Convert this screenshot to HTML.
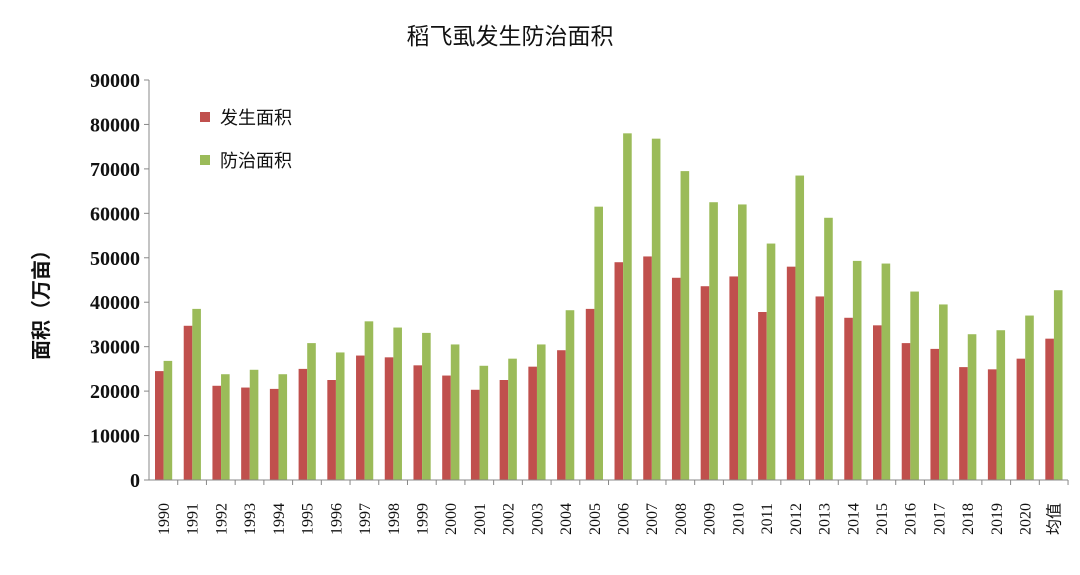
<!DOCTYPE html><html><head><meta charset="utf-8"><style>body{margin:0;background:#fff}</style></head><body>
<svg width="1080" height="570" xmlns="http://www.w3.org/2000/svg" id="s">
<text x="510" y="44" text-anchor="middle" font-family="Liberation Sans,'Noto Sans CJK SC',sans-serif" font-size="23" fill="#111">稻飞虱发生防治面积</text>
<text transform="translate(48,300) rotate(-90)" text-anchor="middle" font-family="Liberation Sans,'Noto Sans CJK SC',sans-serif" font-size="20" font-weight="bold" fill="#111">面积（万亩）</text>
<rect x="200" y="112" width="10" height="10" fill="#c0504d"/>
<text x="220" y="124" font-family="Liberation Sans,'Noto Sans CJK SC',sans-serif" font-size="18" fill="#111">发生面积</text>
<rect x="200" y="155" width="10" height="10" fill="#9bbb59"/>
<text x="220" y="167" font-family="Liberation Sans,'Noto Sans CJK SC',sans-serif" font-size="18" fill="#111">防治面积</text>
<g id="g"></g>
</svg>
<script>
var r=[24500,34700,21200,20800,20500,25000,22500,28000,27600,25800,23500,20300,22500,25500,29200,38500,49000,50300,45500,43600,45800,37800,48000,41300,36500,34800,30800,29500,25400,24900,27300,31800];
var g=[26800,38500,23800,24800,23800,30800,28700,35700,34300,33100,30500,25700,27300,30500,38200,61500,78000,76800,69500,62500,62000,53200,68500,59000,49300,48700,42400,39500,32800,33700,37000,42700];
var s='',X0=149,Y0=480,k=400/90000,w=28.72;
for(var i=0;i<=9;i++){var y=Y0-i*10000*k;s+='<line x1="144" x2="149" y1="'+y+'" y2="'+y+'" stroke="#888"/><text x="140" y="'+(y+7)+'" text-anchor="end" font-family="Liberation Serif,serif" font-weight="bold" font-size="20" fill="#111">'+(i*10000)+'</text>';}
for(var i=0;i<32;i++){var x=X0+i*w;
s+='<rect x="'+(x+6)+'" y="'+(Y0-r[i]*k)+'" width="8.6" height="'+r[i]*k+'" fill="#c0504d"/>';
s+='<rect x="'+(x+14.6)+'" y="'+(Y0-g[i]*k)+'" width="8.6" height="'+g[i]*k+'" fill="#9bbb59"/>';
s+='<line x1="'+(x+w)+'" x2="'+(x+w)+'" y1="480" y2="485" stroke="#888"/>';
var lab=i<31?(1990+i):'均值';
s+='<text transform="translate('+(x+20)+',503) rotate(-90)" text-anchor="end" font-family="Liberation Serif,\'Noto Sans CJK SC\',serif" font-size="16" fill="#111">'+lab+'</text>';}
s+='<line x1="149" x2="149" y1="80" y2="480" stroke="#888"/><line x1="149" x2="1068" y1="480" y2="480" stroke="#888"/>';
document.getElementById('g').innerHTML=s;
</script></body></html>
